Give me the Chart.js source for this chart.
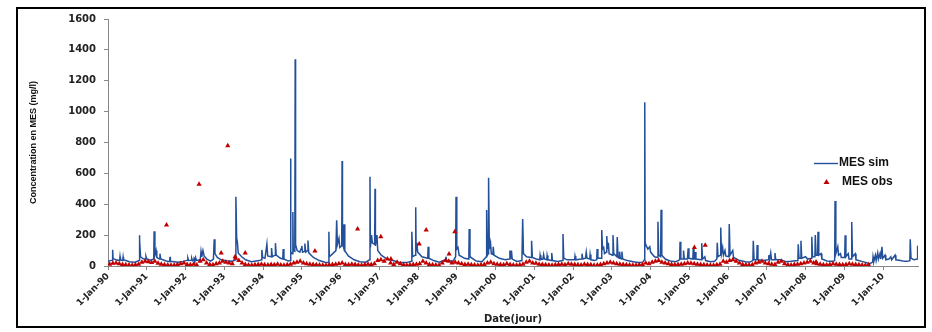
<!DOCTYPE html>
<html>
<head>
<meta charset="utf-8">
<script src="https://cdn.jsdelivr.net/npm/chart.js@4/dist/chart.umd.min.js"></script>
<style>
  html, body { margin: 0; padding: 0; background: #fff; }
  #wrap { position: relative; width: 932px; height: 332px; }
</style>
</head>
<body>
<div id="wrap"><canvas id="mes-chart"></canvas></div>
<script>
const ctx = document.getElementById('mes-chart');

// axis ticks (x in decimal years)
const yearTicks = [1990, 1991, 1992, 1993, 1994, 1995, 1996, 1997, 1998, 1999, 2000,
  2001, 2002, 2003, 2004, 2005, 2006, 2007, 2008, 2009, 2010];
const yearLabels = ['1-Jan-90', '1-Jan-91', '1-Jan-92', '1-Jan-93', '1-Jan-94', '1-Jan-95',
  '1-Jan-96', '1-Jan-97', '1-Jan-98', '1-Jan-99', '1-Jan-00', '1-Jan-01', '1-Jan-02',
  '1-Jan-03', '1-Jan-04', '1-Jan-05', '1-Jan-06', '1-Jan-07', '1-Jan-08', '1-Jan-09', '1-Jan-10'];

// MES sim : [date (decimal year), mg/l]
const simPoints = [
  [1990.00, 30], [1990.11, 38], [1990.12, 105], [1990.13, 50], [1990.20, 40],
  [1990.30, 35], [1990.31, 60], [1990.32, 40], [1990.38, 36], [1990.39, 58], [1990.40, 40],
  [1990.55, 28], [1990.70, 24], [1990.80, 35], [1990.81, 200], [1990.82, 170], [1990.84, 60],
  [1990.92, 45], [1990.97, 45], [1990.98, 62], [1991.00, 45], [1991.10, 38],
  [1991.18, 45], [1991.19, 225], [1991.21, 70], [1991.24, 100], [1991.26, 55],
  [1991.33, 45], [1991.34, 80], [1991.36, 45], [1991.50, 32], [1991.59, 28], [1991.60, 60], [1991.61, 30],
  [1991.80, 24], [1991.95, 30], [1992.05, 38], [1992.06, 52], [1992.08, 36], [1992.15, 38], [1992.16, 50], [1992.18, 34],
  [1992.21, 36], [1992.22, 48], [1992.24, 34], [1992.26, 55], [1992.28, 36],
  [1992.38, 40], [1992.40, 95], [1992.42, 60], [1992.45, 100], [1992.48, 65], [1992.55, 45],
  [1992.65, 32], [1992.72, 45], [1992.74, 173], [1992.76, 80], [1992.82, 55], [1992.92, 40],
  [1993.05, 34], [1993.20, 30], [1993.29, 40], [1993.30, 449], [1993.32, 180], [1993.34, 150], [1993.36, 85],
  [1993.45, 60], [1993.55, 40], [1993.70, 28], [1993.90, 35], [1993.96, 40], [1993.97, 104], [1993.99, 55],
  [1994.05, 50], [1994.10, 142], [1994.12, 65], [1994.21, 60], [1994.22, 116], [1994.24, 60],
  [1994.31, 70], [1994.32, 148], [1994.34, 70], [1994.45, 50], [1994.51, 45], [1994.52, 110], [1994.54, 45],
  [1994.65, 32], [1994.70, 35], [1994.71, 697], [1994.72, 90], [1994.76, 80], [1994.77, 350], [1994.78, 100],
  [1994.82, 95], [1994.83, 1340], [1994.84, 140], [1994.88, 100], [1994.95, 90], [1994.98, 110], [1995.00, 130], [1995.02, 90],
  [1995.07, 95], [1995.08, 145], [1995.10, 90], [1995.15, 100], [1995.16, 165], [1995.18, 85],
  [1995.30, 55], [1995.45, 35], [1995.60, 25], [1995.69, 22], [1995.70, 222], [1995.71, 60], [1995.80, 80],
  [1995.88, 100], [1995.90, 297], [1995.92, 140], [1995.96, 180], [1995.98, 120], [1996.03, 130], [1996.04, 680], [1996.05, 150],
  [1996.08, 120], [1996.09, 270], [1996.11, 100], [1996.20, 65], [1996.35, 40], [1996.50, 28], [1996.65, 25],
  [1996.75, 40], [1996.76, 578], [1996.77, 120], [1996.80, 200], [1996.82, 150], [1996.88, 140], [1996.89, 500],
  [1996.90, 130], [1996.94, 200], [1996.96, 100],
  [1997.05, 70], [1997.20, 45], [1997.35, 35], [1997.50, 25], [1997.70, 22], [1997.83, 30], [1997.84, 222], [1997.86, 60],
  [1997.93, 70], [1997.94, 380], [1997.95, 100], [1997.97, 150], [1997.99, 90], [1998.10, 60], [1998.25, 50], [1998.26, 125], [1998.28, 50],
  [1998.40, 35], [1998.55, 25], [1998.70, 40], [1998.72, 60], [1998.74, 35], [1998.90, 30], [1998.97, 60], [1998.98, 449],
  [1999.00, 110], [1999.03, 120], [1999.06, 70],
  [1999.20, 50], [1999.31, 45], [1999.32, 240], [1999.34, 60], [1999.50, 32], [1999.65, 28], [1999.76, 60], [1999.77, 363],
  [1999.79, 70], [1999.81, 80], [1999.82, 572], [1999.84, 110], [1999.87, 150], [1999.89, 80],
  [1999.93, 75], [1999.94, 125], [1999.96, 70], [2000.10, 50], [2000.25, 40], [2000.36, 45], [2000.37, 100], [2000.39, 45],
  [2000.41, 100], [2000.43, 45],
  [2000.55, 30], [2000.68, 35], [2000.70, 305], [2000.72, 80], [2000.80, 60], [2000.92, 55], [2000.93, 164], [2000.95, 55],
  [2001.05, 45], [2001.14, 40], [2001.15, 70], [2001.17, 42], [2001.22, 45], [2001.24, 75], [2001.26, 45], [2001.32, 40],
  [2001.33, 68], [2001.35, 40],
  [2001.44, 35], [2001.45, 84], [2001.47, 35], [2001.60, 30], [2001.73, 35], [2001.74, 207], [2001.76, 50], [2001.85, 40],
  [2002.04, 40], [2002.05, 65], [2002.07, 40], [2002.22, 45], [2002.23, 80], [2002.25, 45], [2002.32, 50], [2002.34, 90],
  [2002.36, 50], [2002.43, 45], [2002.44, 75], [2002.46, 40],
  [2002.55, 35], [2002.61, 40], [2002.62, 110], [2002.64, 50], [2002.73, 50], [2002.74, 233], [2002.76, 110], [2002.79, 120],
  [2002.81, 80], [2002.86, 90], [2002.87, 194], [2002.89, 110], [2002.91, 150], [2002.93, 80],
  [2003.02, 70], [2003.03, 200], [2003.05, 80], [2003.13, 60], [2003.14, 188], [2003.16, 60], [2003.19, 50], [2003.20, 93],
  [2003.22, 50], [2003.25, 45], [2003.26, 93], [2003.28, 45],
  [2003.40, 35], [2003.55, 28], [2003.68, 22], [2003.80, 25], [2003.84, 40], [2003.85, 1060], [2003.86, 150], [2003.89, 130],
  [2003.93, 110], [2003.98, 125], [2004.00, 90],
  [2004.10, 60], [2004.18, 55], [2004.19, 287], [2004.21, 70], [2004.26, 60], [2004.27, 365], [2004.29, 70], [2004.38, 45],
  [2004.50, 32], [2004.65, 28],
  [2004.75, 40], [2004.76, 157], [2004.78, 45], [2004.84, 45], [2004.85, 100], [2004.87, 45], [2004.95, 45], [2004.97, 115], [2004.99, 50],
  [2005.09, 45], [2005.10, 110], [2005.12, 45], [2005.14, 45], [2005.15, 90], [2005.17, 45], [2005.31, 40], [2005.32, 148],
  [2005.34, 45], [2005.40, 60], [2005.42, 35],
  [2005.55, 28], [2005.65, 30], [2005.71, 45], [2005.72, 150], [2005.74, 60], [2005.80, 70], [2005.81, 250], [2005.83, 80],
  [2005.86, 120], [2005.88, 70], [2005.92, 100], [2005.94, 65],
  [2006.02, 60], [2006.03, 272], [2006.05, 70], [2006.12, 100], [2006.14, 55], [2006.30, 35], [2006.45, 28], [2006.55, 25],
  [2006.64, 35], [2006.65, 164], [2006.67, 40], [2006.74, 40], [2006.75, 136], [2006.77, 40], [2006.90, 35],
  [2007.04, 40], [2007.05, 70], [2007.07, 40], [2007.10, 85], [2007.12, 40], [2007.20, 40], [2007.21, 84], [2007.23, 40],
  [2007.35, 40], [2007.50, 28], [2007.62, 30],
  [2007.80, 35], [2007.81, 140], [2007.83, 50], [2007.87, 50], [2007.88, 164], [2007.90, 50], [2008.00, 60], [2008.05, 45],
  [2008.15, 50], [2008.16, 190], [2008.18, 60], [2008.24, 60], [2008.25, 200], [2008.27, 70], [2008.31, 70], [2008.32, 222],
  [2008.34, 70], [2008.40, 80], [2008.42, 45],
  [2008.55, 32], [2008.70, 30], [2008.75, 35], [2008.76, 421], [2008.78, 80], [2008.83, 125], [2008.85, 70], [2008.90, 80], [2008.92, 55],
  [2009.01, 55], [2009.02, 199], [2009.04, 60], [2009.10, 80], [2009.12, 45], [2009.18, 45], [2009.19, 285], [2009.21, 60],
  [2009.28, 80], [2009.30, 40],
  [2009.45, 30], [2009.60, 20], [2009.66, 15], [2009.73, 25], [2009.74, 60], [2009.76, 30], [2009.80, 70], [2009.82, 35],
  [2009.86, 85], [2009.88, 45], [2009.92, 80], [2009.94, 45], [2009.97, 125], [2009.99, 50],
  [2010.05, 70], [2010.07, 40], [2010.15, 45], [2010.20, 60], [2010.22, 40], [2010.31, 70], [2010.33, 40], [2010.45, 35], [2010.55, 30],
  [2010.62, 30], [2010.69, 35], [2010.70, 173], [2010.72, 50], [2010.80, 40], [2010.88, 45], [2010.89, 131]
];

// MES obs : one sample a month from Jan 1990 to Aug 2009 (mg/l)
const obsStartYear = 1990;
const obsMonthly = [
  12, 18, 20, 15, 10, 8, 6, 5, 8, 12, 25, 30,
  28, 22, 30, 18, 12, 8, 6, 5, 5, 10, 15, 20,
  10, 8, 12, 6, 30, 40, 20, 10, 8, 15, 20, 30,
  25, 20, 15, 50, 35, 20, 10, 6, 5, 8, 10, 12,
  8, 6, 10, 8, 12, 6, 5, 8, 12, 20, 25, 30,
  20, 15, 12, 10, 8, 6, 5, 5, 8, 10, 12, 15,
  20, 10, 8, 12, 10, 6, 5, 8, 12, 10, 15, 35,
  40, 30, 45, 20, 10, 25, 15, 8, 5, 8, 10, 12,
  15, 30, 20, 10, 8, 6, 5, 20, 35, 30, 20, 25,
  20, 15, 10, 12, 8, 6, 5, 8, 10, 20, 25, 15,
  12, 10, 8, 15, 10, 6, 5, 8, 12, 25, 30, 20,
  18, 12, 10, 8, 6, 5, 8, 10, 12, 8, 15, 12,
  10, 8, 6, 12, 10, 8, 5, 6, 10, 15, 20, 25,
  20, 15, 12, 10, 8, 6, 5, 5, 8, 10, 20, 15,
  25, 30, 35, 25, 20, 15, 10, 8, 10, 12, 15, 20,
  18, 15, 12, 10, 8, 6, 5, 5, 8, 12, 30, 25,
  35, 40, 30, 20, 10, 8, 6, 8, 20, 25, 30, 20,
  15, 12, 10, 25, 30, 15, 8, 6, 10, 12, 15, 20,
  25, 30, 20, 15, 12, 8, 6, 10, 15, 12, 10, 8,
  10, 15, 12, 10, 8, 6, 5, 8
];
// isolated high observations
const obsPeaks = [
  [1991.51, 265], [1992.35, 529], [1992.92, 84], [1993.09, 779], [1993.28, 60], [1993.54, 84],
  [1995.34, 97], [1996.44, 240], [1997.04, 190], [1997.30, 45], [1998.03, 142], [1998.21, 233],
  [1998.80, 78], [1998.95, 222], [2005.13, 120], [2005.41, 135], [2008.27, 26]
];

const simData = simPoints.map(p => ({ x: p[0], y: p[1] }));
const obsData = obsMonthly.map((v, i) => ({ x: obsStartYear + (i + 0.5) / 12, y: v }))
  .concat(obsPeaks.map(p => ({ x: p[0], y: p[1] })));

const SIM_COLOR = '#24509A';
const OBS_COLOR = '#C00000';

// frame round the figure + legend inside the plot
const framePlugin = {
  id: 'frame',
  beforeDraw(chart) {
    const c = chart.ctx;
    c.save();
    c.fillStyle = '#fff';
    c.fillRect(0, 0, chart.width, chart.height);
    c.restore();
  },
  afterDraw(chart) {
    const c = chart.ctx;
    c.save();
    c.strokeStyle = '#000';
    c.lineWidth = 2;
    c.strokeRect(17, 8, 908, 319);

    // legend
    c.strokeStyle = SIM_COLOR;
    c.lineWidth = 1.4;
    c.beginPath();
    c.moveTo(814, 163.5);
    c.lineTo(838, 163.5);
    c.stroke();
    c.fillStyle = OBS_COLOR;
    c.beginPath();
    c.moveTo(826.5, 179);
    c.lineTo(829.5, 184);
    c.lineTo(823.5, 184);
    c.closePath();
    c.fill();
    c.fillStyle = '#111';
    c.font = 'bold 12px "Liberation Sans", Arial, sans-serif';
    c.textBaseline = 'middle';
    c.fillText('MES sim', 839, 163);
    c.fillText('MES obs', 842, 182);
    c.restore();
  }
};

const config = {
  type: 'scatter',
  data: {
    datasets: [
      {
        label: 'MES sim',
        data: simData,
        showLine: true,
        borderColor: SIM_COLOR,
        borderWidth: 1.5,
        pointRadius: 0,
        tension: 0,
        order: 2
      },
      {
        label: 'MES obs',
        data: obsData,
        showLine: false,
        pointStyle: 'triangle',
        pointRadius: 3,
        backgroundColor: OBS_COLOR,
        borderColor: OBS_COLOR,
        borderWidth: 0,
        order: 1
      }
    ]
  },
  plugins: [framePlugin],
  options: {
    animation: false,
    responsive: true,
    maintainAspectRatio: false,
    layout: {
      padding: { left: 18, right: 14, top: 19, bottom: 4 }
    },
    plugins: {
      legend: { display: false },
      tooltip: { enabled: false }
    },
    scales: {
      x: {
        type: 'linear',
        min: 1990,
        max: 2010.9,
        afterBuildTicks: (scale) => {
          scale.ticks = yearTicks.map(v => ({ value: v }));
        },
        afterFit: (scale) => { scale.height = 62; },
        ticks: {
          minRotation: 45,
          maxRotation: 45,
          autoSkip: false,
          padding: 1,
          color: '#222',
          font: { family: '"DejaVu Sans", sans-serif', size: 9, weight: 'bold' },
          callback: (value) => yearLabels[yearTicks.indexOf(value)]
        },
        grid: {
          drawOnChartArea: false,
          drawTicks: true,
          tickLength: 4,
          color: '#888'
        },
        border: { display: true, color: '#888', width: 1 },
        title: {
          display: true,
          text: 'Date(jour)',
          color: '#222',
          font: { family: '"DejaVu Sans", sans-serif', size: 10, weight: 'bold' },
          padding: { top: 0, bottom: 3 }
        }
      },
      y: {
        min: 0,
        max: 1600,
        afterFit: (scale) => { scale.width = 90; },
        ticks: {
          stepSize: 200,
          padding: 8,
          color: '#222',
          font: { family: '"DejaVu Sans", sans-serif', size: 10, weight: 'bold' },
          callback: (value) => String(value)
        },
        grid: {
          drawOnChartArea: false,
          drawTicks: true,
          tickLength: 4,
          color: '#888'
        },
        border: { display: true, color: '#888', width: 1 },
        title: {
          display: true,
          text: 'Concentration en MES (mg/l)',
          color: '#111',
          font: { family: '"Liberation Sans", Arial, sans-serif', size: 9, weight: 'bold' },
          padding: { top: 10, bottom: 0 }
        }
      }
    }
  }
};

new Chart(ctx, config);
</script>
</body>
</html>
